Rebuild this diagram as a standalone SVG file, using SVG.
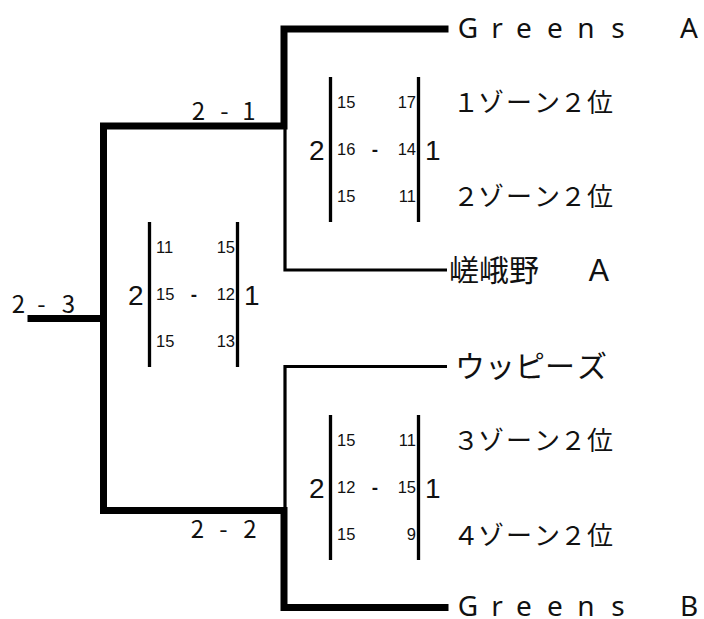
<svg xmlns="http://www.w3.org/2000/svg" width="704" height="619" viewBox="0 0 704 619">
<style>
.thick{fill:none;stroke:#000;stroke-width:7;stroke-linejoin:miter;stroke-linecap:square}
.thin{fill:none;stroke:#000;stroke-width:3.2;stroke-linecap:butt}
.bar{stroke:#000;stroke-width:3.3}
.jp{font-family:"Noto Sans CJK JP","Noto Sans",sans-serif;fill:#111}
.name{font-family:"Noto Sans","Noto Sans CJK JP",sans-serif;font-size:28px;text-anchor:middle;fill:#111}
.cj{font-size:30px}
.zone{font-size:26px;text-anchor:middle}
.sc{font-size:24px;text-anchor:middle}
.n{font-family:"Liberation Sans",Arial,sans-serif;font-size:16.5px;fill:#111}
.dash{font-family:"Liberation Sans",Arial,sans-serif;font-size:19px;font-weight:bold;fill:#111;text-anchor:middle}
.big{font-family:"Liberation Sans",Arial,sans-serif;font-size:28px;fill:#111}
</style>
<rect width="704" height="619" fill="#fff"/>
<g id="connectors">
  <path class="thick" d="M31,318.5 H103.5"/>
  <path class="thick" d="M103.5,318.5 V126 H284 V29 H445"/>
  <path class="thick" d="M103.5,318.5 V510.5 H284 V607.5 H445"/>
  <path class="thin" d="M285,126 V270 H447"/>
  <path class="thin" d="M285,510 V366.5 H447"/>
</g>
<g id="team-greens-a"><text class="name" x="468 497 524 555 586 618 650 689" y="38">Greens A</text></g>
<g id="team-zone1"><text class="jp zone" x="466 491 519 547 573 600" y="112">１ゾーン２位</text></g>
<g id="team-zone2"><text class="jp zone" x="466 491 519 547 573 600" y="206">２ゾーン２位</text></g>
<g id="team-sagano-a"><text class="jp cj" x="449 479 509 539 584" y="281">嵯峨野　Ａ</text></g>
<g id="team-uppies"><text class="jp cj" x="455 485 515 545 577" y="377">ウッピーズ</text></g>
<g id="team-zone3"><text class="jp zone" x="466 491 519 547 573 600" y="450">３ゾーン２位</text></g>
<g id="team-zone4"><text class="jp zone" x="466 491 519 547 573 600" y="545">４ゾーン２位</text></g>
<g id="team-greens-b"><text class="name" x="468 497 524 555 586 618 650 689" y="616">Greens B</text></g>

<g id="score-sf1"><text class="jp sc" x="198.5 211 224.5 237 249" y="120">2 - 1</text></g>
<g id="score-final"><text class="jp sc" x="18.5 30 41.5 55 68.5" y="313">2 - 3</text></g>
<g id="score-sf2"><text class="jp sc" x="197.5 211 223.5 237 250" y="538">2 - 2</text></g>

<g id="set-qf1">
  <line class="bar" x1="330.5" y1="77" x2="330.5" y2="222"/>
  <line class="bar" x1="418.5" y1="77" x2="418.5" y2="222"/>
  <text class="big" x="309" y="159.5">2</text>
  <text class="big" x="425" y="159.5">1</text>
  <text class="n" x="337" y="108">15</text><text class="n" x="416" y="108" text-anchor="end">17</text>
  <text class="n" x="337" y="155">16</text><text class="dash" x="375" y="156">-</text><text class="n" x="416" y="155" text-anchor="end">14</text>
  <text class="n" x="337" y="202">15</text><text class="n" x="416" y="202" text-anchor="end">11</text>
</g>
<g id="set-final">
  <line class="bar" x1="149.5" y1="222" x2="149.5" y2="367"/>
  <line class="bar" x1="237.5" y1="222" x2="237.5" y2="367"/>
  <text class="big" x="128" y="304.5">2</text>
  <text class="big" x="244" y="304.5">1</text>
  <text class="n" x="156" y="253">11</text><text class="n" x="235" y="253" text-anchor="end">15</text>
  <text class="n" x="156" y="300">15</text><text class="dash" x="194" y="301">-</text><text class="n" x="235" y="300" text-anchor="end">12</text>
  <text class="n" x="156" y="347">15</text><text class="n" x="235" y="347" text-anchor="end">13</text>
</g>
<g id="set-qf2">
  <line class="bar" x1="330.5" y1="415" x2="330.5" y2="560"/>
  <line class="bar" x1="418.5" y1="415" x2="418.5" y2="560"/>
  <text class="big" x="309" y="497.5">2</text>
  <text class="big" x="425" y="497.5">1</text>
  <text class="n" x="337" y="446">15</text><text class="n" x="416" y="446" text-anchor="end">11</text>
  <text class="n" x="337" y="493">12</text><text class="dash" x="375" y="494">-</text><text class="n" x="416" y="493" text-anchor="end">15</text>
  <text class="n" x="337" y="540">15</text><text class="n" x="416" y="540" text-anchor="end">9</text>
</g>
</svg>
